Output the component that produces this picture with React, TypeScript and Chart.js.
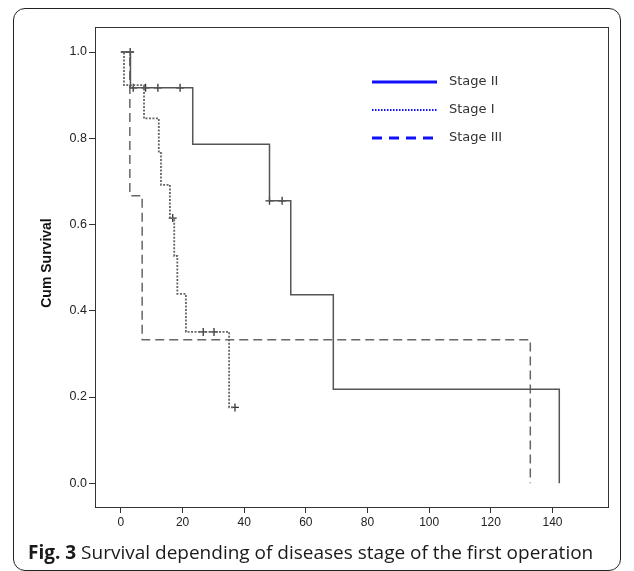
import React, { useEffect, useRef } from "react";
import { Chart, registerables } from "chart.js";

Chart.register(...registerables);

// ---- data (months, cumulative survival) ----
const xTicks = [0, 20, 40, 60, 80, 100, 120, 140];
const yTicks = [0, 0.2, 0.4, 0.6, 0.8, 1.0];

const stage2Times = [0, 3.1, 23.3, 48.2, 55.1, 68.9, 142.2];
const stage2Surv = [1, 0.917, 0.786, 0.655, 0.437, 0.218, 0];
const stage2CensorTimes = [3, 4, 8, 12, 19.2, 48.2, 52.3];
const stage2CensorSurv = [1, 0.917, 0.917, 0.917, 0.917, 0.655, 0.655];

const stage1Times = [0, 1.0, 7.5, 12.3, 13, 15.9, 17.3, 18.3, 21.1, 35.1, 37];
const stage1Surv = [1, 0.923, 0.846, 0.769, 0.692, 0.615, 0.527, 0.439, 0.351, 0.176, 0.176];
const stage1CensorTimes = [16.8, 26.7, 30.2, 37];
const stage1CensorSurv = [0.615, 0.351, 0.351, 0.176];

const stage3Times = [0, 2.9, 6.9, 132.8];
const stage3Surv = [1, 0.667, 0.333, 0];

const legendLabels = ["Stage II", "Stage I", "Stage III"];

const pts = (xs: number[], ys: number[]) => xs.map((x, i) => ({ x, y: ys[i] }));

export default function App() {
  const ref = useRef<HTMLCanvasElement | null>(null);

  useEffect(() => {
    if (!ref.current) return;

    const framePlugin = {
      id: "frame",
      afterDatasetsDraw(chart: any) {
        const { ctx, chartArea } = chart;
        ctx.save();
        ctx.strokeStyle = "#333";
        ctx.lineWidth = 1;
        ctx.strokeRect(chartArea.left + 0.5, chartArea.top + 0.5, chartArea.right - chartArea.left, chartArea.bottom - chartArea.top);

        // axis title
        ctx.translate(47, 263);
        ctx.rotate(-Math.PI / 2);
        ctx.fillStyle = "#111";
        ctx.font = "bold 14px 'Liberation Sans', Arial, sans-serif";
        ctx.textAlign = "center";
        ctx.textBaseline = "middle";
        ctx.fillText("Cum Survival", 0, 0);
        ctx.restore();

        // legend
        ctx.save();
        const rows = [
          { y: 82, dash: [] as number[], w: 3 },
          { y: 110, dash: [1.5, 1.5], w: 2 },
          { y: 138, dash: [10, 7], w: 3 },
        ];
        rows.forEach((r, i) => {
          ctx.beginPath();
          ctx.setLineDash(r.dash);
          ctx.strokeStyle = "#1010ff";
          ctx.lineWidth = r.w;
          ctx.moveTo(372, r.y);
          ctx.lineTo(437, r.y);
          ctx.stroke();
          ctx.setLineDash([]);
          ctx.fillStyle = "#333";
          ctx.font = "13px 'DejaVu Sans', sans-serif";
          ctx.textAlign = "left";
          ctx.textBaseline = "middle";
          ctx.fillText(legendLabels[i], 449, r.y);
        });
        ctx.restore();
      },
    };

    const lineDs = (label: string, xs: number[], ys: number[], dash: number[], color: string, w: number) => ({
      label,
      data: pts(xs, ys),
      showLine: true,
      stepped: true,
      borderColor: color,
      borderWidth: w,
      borderDash: dash,
      pointRadius: 0,
      fill: false,
    });
    const censorDs = (label: string, xs: number[], ys: number[]) => ({
      label,
      data: pts(xs, ys),
      showLine: false,
      pointStyle: "cross",
      pointRadius: 4,
      borderColor: "#333",
      backgroundColor: "#333",
      borderWidth: 1.3,
    });

    const chart = new Chart(ref.current, {
      type: "scatter",
      data: {
        datasets: [
          lineDs("Stage II", stage2Times, stage2Surv, [], "#555", 1.5),
          lineDs("Stage I", stage1Times, stage1Surv, [2, 1.5], "#666", 1.8),
          lineDs("Stage III", stage3Times, stage3Surv, [9, 5], "#666", 1.5),
          censorDs("Stage II censored", stage2CensorTimes, stage2CensorSurv),
          censorDs("Stage I censored", stage1CensorTimes, stage1CensorSurv),
        ] as any,
      },
      options: {
        animation: false,
        responsive: false,
        maintainAspectRatio: false,
        layout: { padding: { left: 0, top: 27, right: 26, bottom: 0 } },
        plugins: { legend: { display: false }, tooltip: { enabled: false } },
        scales: {
          x: {
            type: "linear",
            min: -8.4,
            max: 158,
            afterBuildTicks: (s: any) => {
              s.ticks = xTicks.map((v) => ({ value: v }));
            },
            afterFit: (s: any) => {
              s.height = 64;
            },
            grid: { display: true, drawOnChartArea: false, drawTicks: true, tickLength: 6, color: "#333", lineWidth: 1 },
            border: { display: true, color: "#333", width: 1 },
            ticks: {
              color: "#222",
              padding: 2,
              maxRotation: 0,
              font: { family: "'Liberation Sans', Arial, sans-serif", size: 12 },
              callback: (v: any) => String(v),
            },
          },
          y: {
            type: "linear",
            min: -0.055,
            max: 1.058,
            afterBuildTicks: (s: any) => {
              s.ticks = yTicks.map((v) => ({ value: v }));
            },
            afterFit: (s: any) => {
              s.width = 95;
            },
            grid: { display: true, drawOnChartArea: false, drawTicks: true, tickLength: 6, color: "#333", lineWidth: 1 },
            border: { display: true, color: "#333", width: 1 },
            ticks: {
              color: "#222",
              padding: 2,
              font: { family: "'Liberation Sans', Arial, sans-serif", size: 12.5 },
              callback: (v: any) => Number(v).toFixed(1),
            },
          },
        },
      },
      plugins: [framePlugin],
    } as any);

    return () => chart.destroy();
  }, []);

  return (
    <div style={{ position: "absolute", left: 0, top: 0, width: 634, height: 571, background: "#fff", overflow: "hidden" }}>
      <div
        style={{
          position: "absolute",
          left: 13,
          top: 8,
          width: 606,
          height: 561,
          border: "1.5px solid #222",
          borderRadius: 12,
        }}
      />
      <canvas ref={ref} width={634} height={571} style={{ position: "absolute", left: 0, top: 0 }} />
      <div
        style={{
          position: "absolute",
          left: 28,
          top: 543,
          fontFamily: "'Open Sans', sans-serif",
          fontSize: 19,
          lineHeight: 1,
          color: "#1a1a1a",
          whiteSpace: "nowrap",
        }}
      >
        <b>Fig. 3</b> Survival depending of diseases stage of the first operation
      </div>
    </div>
  );
}
